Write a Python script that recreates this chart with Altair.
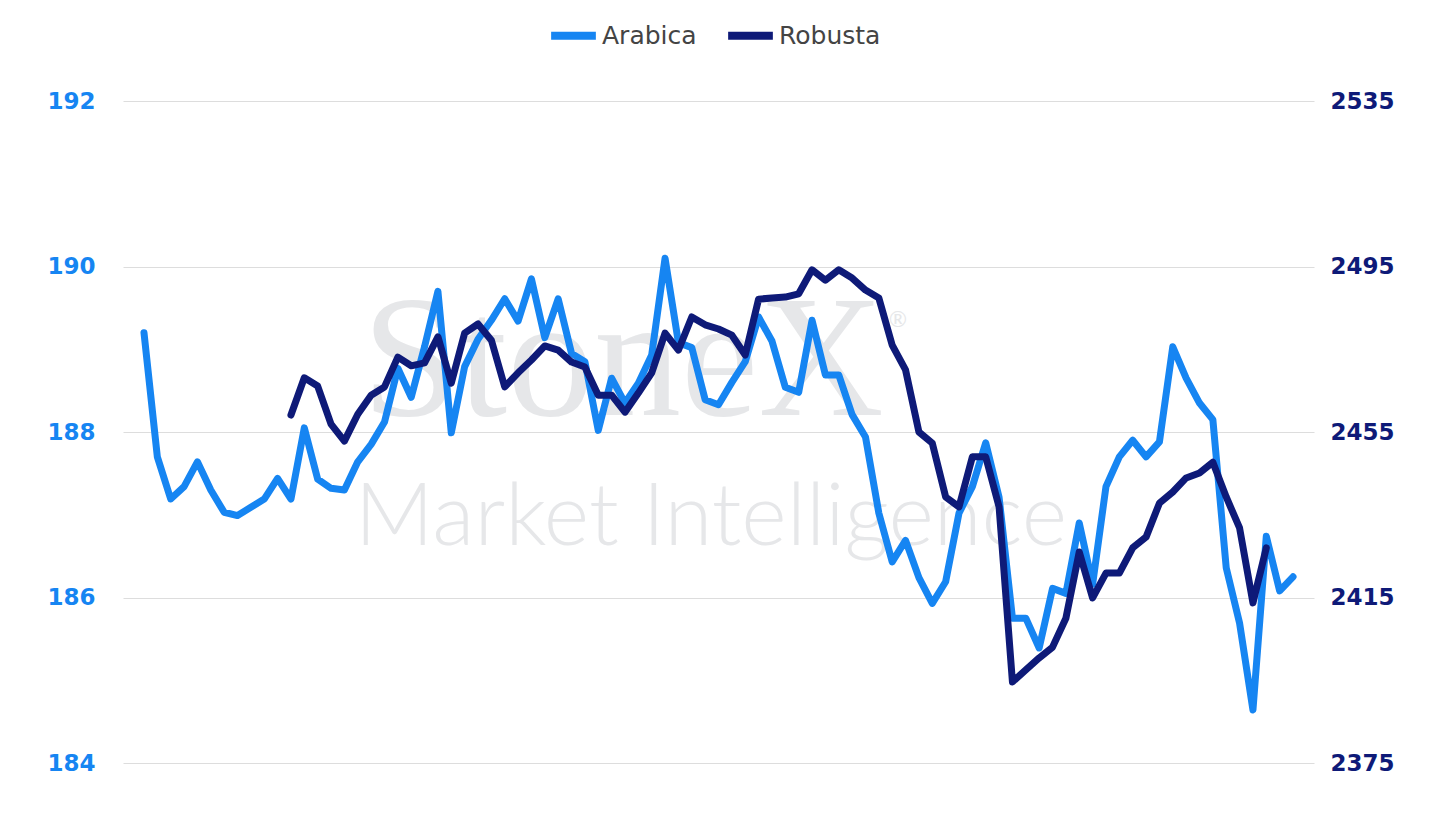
import altair as alt
import pandas as pd

# Arabica (left axis), one value per period, index 0..86
arabica = [
    189.20, 187.70, 187.19, 187.34, 187.64, 187.30, 187.03, 186.99, 187.09, 187.19,
    187.44, 187.19, 188.05, 187.43, 187.32, 187.30, 187.64, 187.85, 188.12, 188.77,
    188.42, 189.03, 189.70, 187.99, 188.79, 189.12, 189.35, 189.61, 189.34, 189.85,
    189.14, 189.61, 188.95, 188.85, 188.02, 188.65, 188.35, 188.59, 188.93, 190.10,
    189.08, 189.02, 188.39, 188.33, 188.60, 188.85, 189.39, 189.10, 188.54, 188.48,
    189.35, 188.69, 188.69, 188.21, 187.94, 187.02, 186.43, 186.69, 186.24, 185.93,
    186.19, 187.02, 187.34, 187.87, 187.21, 185.75, 185.75, 185.39, 186.11, 186.05,
    186.90, 186.16, 187.34, 187.70, 187.90, 187.70, 187.88, 189.03, 188.65, 188.35,
    188.15, 186.36, 185.69, 184.64, 186.74, 186.08, 186.25,
]

# Robusta (right axis), starts at index 11, ends at index 84
robusta_start = 11
robusta = [
    2459.1, 2468.1, 2466.1, 2456.9, 2452.8, 2459.3, 2463.9, 2465.9, 2473.1, 2471.0,
    2471.7, 2478.0, 2466.8, 2478.9, 2481.1, 2477.2, 2465.9, 2469.3, 2472.4, 2475.8,
    2474.8, 2471.9, 2470.7, 2463.9, 2463.9, 2459.8, 2464.4, 2469.3, 2478.9, 2474.8,
    2482.8, 2480.9, 2479.9, 2478.4, 2473.6, 2487.1, 2487.4, 2487.6, 2488.4, 2494.2,
    2491.7, 2494.2, 2492.2, 2489.3, 2487.4, 2476.0, 2470.0, 2455.0, 2452.3, 2439.3,
    2436.9, 2449.0, 2449.0, 2436.9, 2394.6, 2397.5, 2400.4, 2403.0, 2410.0, 2426.0,
    2414.9, 2420.9, 2420.9, 2427.0, 2429.6, 2437.8, 2440.5, 2443.9, 2445.1, 2447.7,
    2439.3, 2431.8, 2413.7, 2427.0,
]

series_names = ["Arabica", "Robusta"]
series_colors = ["#1685F2", "#0E1A78"]
left_ticks = [184, 186, 188, 190, 192]
right_ticks = [2375, 2415, 2455, 2495, 2535]

df_a = pd.DataFrame({"i": list(range(len(arabica))), "v": arabica, "s": "Arabica"})
df_r = pd.DataFrame({"i": list(range(robusta_start, robusta_start + len(robusta))),
                     "v": robusta, "s": "Robusta"})

W, H = 1191, 662
FONT = "DejaVu Sans"

x_enc = alt.X("i:Q", axis=None,
              scale=alt.Scale(domain=[-1.57, len(arabica) - 1 + 1.57], nice=False, zero=False))
color_enc = alt.Color(
    "s:N",
    scale=alt.Scale(domain=series_names, range=series_colors),
    legend=alt.Legend(
        title=None, orient="none", direction="horizontal",
        legendX=424, legendY=-92,
        symbolType="stroke", symbolSize=2000, symbolStrokeWidth=8,
        labelFontSize=25, labelColor="#444444", labelFont=FONT,
        labelOffset=2, columnPadding=15,
    ),
)

line_a = alt.Chart(df_a).mark_line(strokeWidth=7, strokeCap="round", strokeJoin="round").encode(
    x=x_enc,
    y=alt.Y("v:Q", scale=alt.Scale(domain=[184, 192], nice=False, zero=False),
            axis=alt.Axis(title=None, values=left_ticks, orient="left", grid=True,
                          gridColor="#DDDDDD", gridWidth=1, domain=False, ticks=False,
                          labelFontSize=23, labelFontWeight="bold", labelFont=FONT,
                          labelColor=series_colors[0], labelPadding=28)),
    color=color_enc,
)

line_r = alt.Chart(df_r).mark_line(strokeWidth=7, strokeCap="round", strokeJoin="round").encode(
    x=x_enc,
    y=alt.Y("v:Q", scale=alt.Scale(domain=[2375, 2535], nice=False, zero=False),
            axis=alt.Axis(title=None, values=right_ticks, orient="right", grid=False,
                          domain=False, ticks=False, format="d",
                          labelFontSize=23, labelFontWeight="bold", labelFont=FONT,
                          labelColor=series_colors[1], labelPadding=16)),
    color=color_enc,
)

wm1 = alt.Chart(pd.DataFrame({"t": ["StoneX"]})).mark_text(
    font="Liberation Serif", fontSize=174, color="#E6E7E9", align="center", baseline="alphabetic"
).encode(x=alt.value(500), y=alt.value(314), text="t:N")
wm2 = alt.Chart(pd.DataFrame({"t": ["Market Intelligence"]})).mark_text(
    font="Lato", fontSize=87, fontWeight=300, color="#E6E7E9", align="center", baseline="alphabetic"
).encode(x=alt.value(588), y=alt.value(444), text="t:N")
wm3 = alt.Chart(pd.DataFrame({"t": ["®"]})).mark_text(
    font="Lato", fontSize=22, color="#E6E7E9", align="center", baseline="middle"
).encode(x=alt.value(775), y=alt.value(219), text="t:N")

chart = alt.layer(wm1, wm2, wm3, line_a, line_r).resolve_scale(y="independent").properties(
    width=W, height=H,
    autosize=alt.AutoSizeParams(type="none"),
    padding={"left": 115, "top": 93, "right": 100, "bottom": 40},
).configure(background="white", view=alt.ViewConfig(stroke=None))

chart.save("out.html", embed_options={"renderer": "svg", "actions": False})
